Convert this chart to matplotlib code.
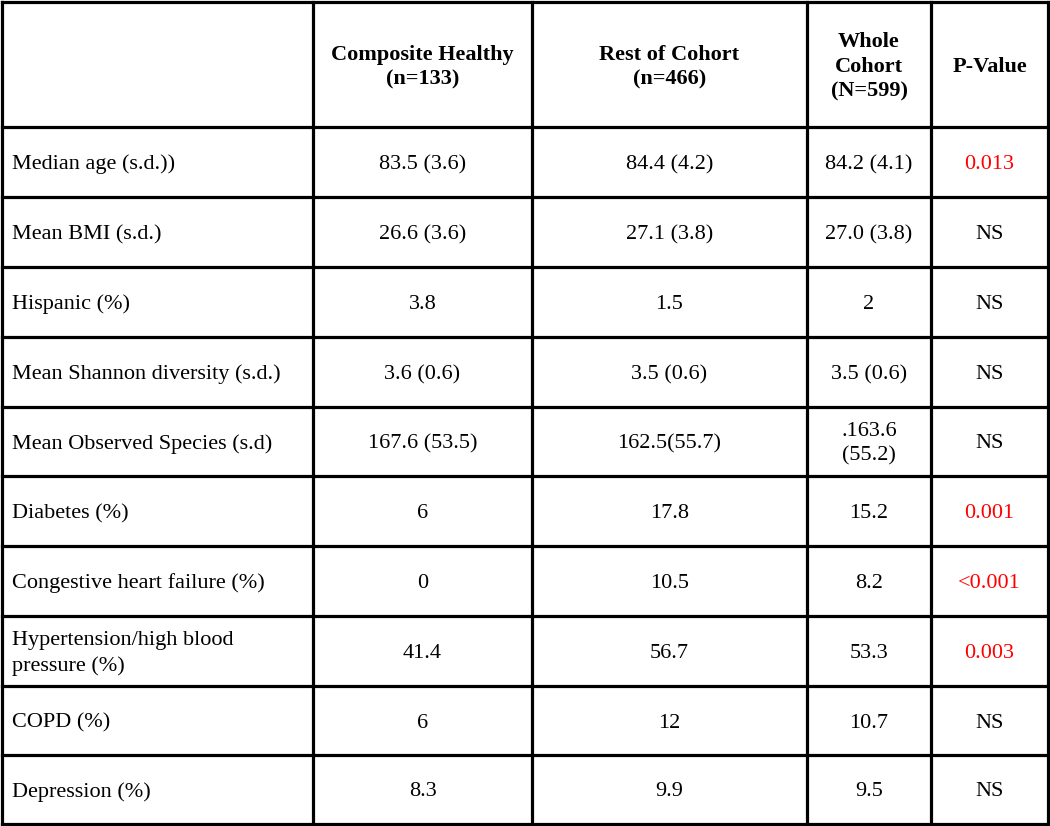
import matplotlib
matplotlib.use("Agg")
import matplotlib.pyplot as plt

# ── DATA ─────────────────────────────────────────────────────────────
headers = ["", "Composite Healthy\n(n=133)", "Rest of Cohort\n(n=466)",
           "Whole\nCohort\n(N=599)", "P-Value"]
row_labels = ["Median age (s.d.))", "Mean BMI (s.d.)", "Hispanic (%)",
              "Mean Shannon diversity (s.d.)", "Mean Observed Species (s.d)",
              "Diabetes (%)", "Congestive heart failure (%)",
              "Hypertension/high blood\npressure (%)", "COPD (%)", "Depression (%)"]
composite = ["83.5 (3.6)", "26.6 (3.6)", "3.8", "3.6 (0.6)", "167.6 (53.5)",
             "6", "0", "41.4", "6", "8.3"]
rest = ["84.4 (4.2)", "27.1 (3.8)", "1.5", "3.5 (0.6)", "162.5(55.7)",
        "17.8", "10.5", "56.7", "12", "9.9"]
whole = ["84.2 (4.1)", "27.0 (3.8)", "2", "3.5 (0.6)", ".163.6\n(55.2)",
         "15.2", "8.2", "53.3", "10.7", "9.5"]
p_values = ["0.013", "NS", "NS", "NS", "NS", "0.001", "<0.001", "0.003", "NS", "NS"]

# ── LAYOUT (pixels) ──────────────────────────────────────────────────
W, H = 1050, 826
col_x = [2, 313, 532, 807, 931, 1048]
row_y = [2, 127, 197, 267, 337, 407, 476, 546, 616, 686, 755, 824]
FONT = "Liberation Serif"
FS = 16
DY = 2.5   # text sits a little below the cell centre

fig = plt.figure(figsize=(W / 100, H / 100), dpi=100)
ax = fig.add_axes([0, 0, 1, 1])
ax.set_xlim(0, W)
ax.set_ylim(H, 0)
ax.axis("off")

# grid lines
for x in col_x:
    ax.plot([x, x], [row_y[0], row_y[-1]], color="black", lw=2.3,
            solid_capstyle="projecting")
for y in row_y:
    ax.plot([col_x[0], col_x[-1]], [y, y], color="black", lw=2.3,
            solid_capstyle="projecting")

def cx(i):
    return (col_x[i] + col_x[i + 1]) / 2

def cy(j):
    return (row_y[j] + row_y[j + 1]) / 2 + DY

# header
for i, h in enumerate(headers):
    if h:
        ax.text(cx(i), cy(0), h, ha="center", va="center", fontsize=FS,
                fontweight="bold", family=FONT, linespacing=1.32)

# body
for r in range(len(row_labels)):
    y = cy(r + 1)
    ax.text(col_x[0] + 10, y, row_labels[r], ha="left", va="center",
            fontsize=FS, family=FONT, linespacing=1.4)
    for i, vals in enumerate([composite, rest, whole], start=1):
        ax.text(cx(i), y, vals[r], ha="center", va="center", fontsize=FS,
                family=FONT, linespacing=1.4)
    p = p_values[r]
    ax.text(cx(4), y, p, ha="center", va="center", fontsize=FS, family=FONT,
            color="black" if p == "NS" else "red")

fig.savefig("out.png", dpi=100)
